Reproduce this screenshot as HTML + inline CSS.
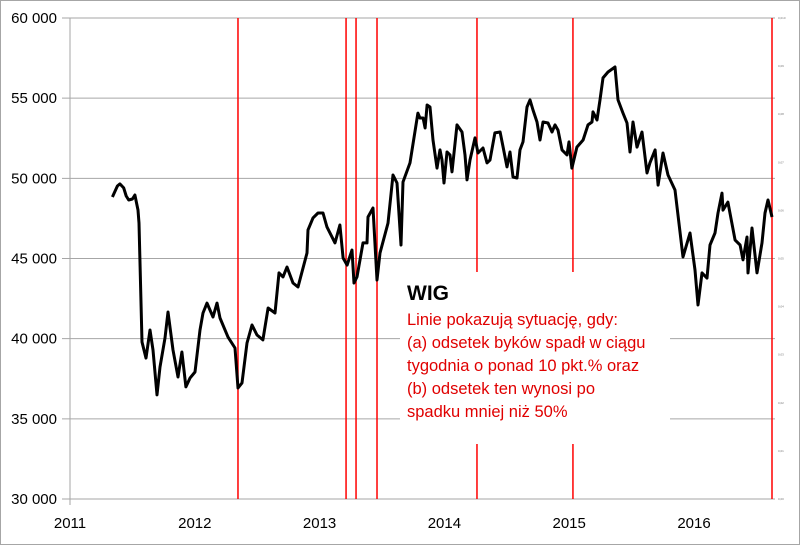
<!DOCTYPE html>
<html><head><meta charset="utf-8"><style>
body{margin:0;background:#fff;}
svg text{font-family:"Liberation Sans","DejaVu Sans",sans-serif;}
</style></head><body>
<svg id="c" width="800" height="545" xmlns="http://www.w3.org/2000/svg">
<rect x="0.5" y="0.5" width="799" height="544" fill="#fff" stroke="#a6a6a6"/>
<g id="grid"></g>
<g id="ylab"></g>
<g id="xlab"></g>
<g id="rlab"></g>
<g id="red"></g>
<path id="line" fill="none" stroke="#000" stroke-width="3" stroke-linejoin="round"/>
<rect x="400" y="272" width="270" height="172" fill="#fff"/>
<text x="407" y="300" font-size="21" font-weight="bold" fill="#000">WIG</text>
<g fill="#e00000" font-size="16.5">
<text x="407" y="325">Linie pokazują sytuację, gdy:</text>
<text x="407" y="348">(a) odsetek byków spadł w ciągu</text>
<text x="407" y="371">tygodnia o ponad 10 pkt.% oraz</text>
<text x="407" y="394">(b) odsetek ten wynosi po</text>
<text x="407" y="417">spadku mniej niż 50%</text>
</g>
</svg>
<script>
const yTicks=[30000,35000,40000,45000,50000,55000,60000];
const yTickLabels=["30 000","35 000","40 000","45 000","50 000","55 000","60 000"];
const xTicks=[2011,2012,2013,2014,2015,2016];
const signalDates=[2012.346,2013.212,2013.292,2013.460,2014.261,2015.030,2016.625];
const dates=[2011.34,2011.38,2011.40,2011.43,2011.45,2011.47,2011.50,2011.52,2011.545,2011.553,2011.577,2011.609,2011.641,2011.665,2011.697,2011.721,2011.761,2011.785,2011.825,2011.865,2011.897,2011.929,2011.962,2012.002,2012.042,2012.066,2012.098,2012.146,2012.178,2012.202,2012.266,2012.322,2012.346,2012.378,2012.418,2012.458,2012.498,2012.546,2012.587,2012.643,2012.675,2012.707,2012.739,2012.787,2012.827,2012.899,2012.907,2012.947,2012.987,2013.027,2013.059,2013.123,2013.163,2013.188,2013.220,2013.260,2013.276,2013.300,2013.348,2013.380,2013.388,2013.428,2013.460,2013.484,2013.548,2013.588,2013.620,2013.652,2013.668,2013.724,2013.788,2013.804,2013.829,2013.845,2013.861,2013.885,2013.909,2013.941,2013.965,2013.981,2013.997,2014.021,2014.045,2014.061,2014.101,2014.141,2014.165,2014.181,2014.205,2014.245,2014.269,2014.309,2014.341,2014.365,2014.405,2014.446,2014.470,2014.502,2014.526,2014.550,2014.582,2014.606,2014.630,2014.662,2014.686,2014.710,2014.742,2014.766,2014.790,2014.830,2014.862,2014.886,2014.910,2014.942,2014.982,2014.998,2015.022,2015.062,2015.111,2015.151,2015.183,2015.191,2015.223,2015.247,2015.271,2015.311,2015.367,2015.391,2015.431,2015.463,2015.487,2015.511,2015.543,2015.583,2015.623,2015.647,2015.688,2015.712,2015.752,2015.792,2015.848,2015.912,2015.968,2016.008,2016.032,2016.064,2016.104,2016.128,2016.168,2016.192,2016.224,2016.232,2016.272,2016.329,2016.369,2016.393,2016.425,2016.433,2016.465,2016.505,2016.545,2016.569,2016.593,2016.625];
const values=[48835,49520,49650,49400,48900,48650,48710,48960,48020,47210,39790,38790,40540,39290,36490,38230,40040,41660,39290,37610,39170,36990,37550,37920,40540,41600,42220,41350,42220,41290,40100,39420,36920,37240,39730,40850,40230,39920,41910,41600,44100,43850,44470,43470,43220,45340,46780,47530,47840,47840,46960,45970,47090,45030,44590,45530,43470,43850,45970,45970,47590,48150,43660,45340,47210,50210,49710,45840,49770,50960,54070,53760,53760,53140,54570,54450,52390,50640,51770,51140,49710,51640,51460,50400,53330,52890,51460,49900,51140,52520,51580,51890,50960,51140,52830,52890,51950,50710,51640,50080,50020,51770,52270,54450,54890,54260,53510,52390,53510,53450,52890,53330,53010,51770,51460,52270,50640,51950,52390,53330,53510,54140,53640,54890,56260,56630,56940,54890,54070,53450,51640,53510,51950,52890,50330,50960,51770,49580,51580,50210,49270,45090,46590,44280,42100,44100,43780,45840,46590,47840,49080,48020,48520,46150,45840,44910,46340,44100,46900,44100,45970,47840,48650,47590];
const NS="http://www.w3.org/2000/svg";
const X=d=>70+(d-2011)*124.8;
const Y=v=>499-(v-30000)/5000*80.17;
function mk(t,a,p){const e=document.createElementNS(NS,t);for(const k in a)e.setAttribute(k,a[k]);p.appendChild(e);return e;}
const grid=document.getElementById('grid'),ylab=document.getElementById('ylab'),xlab=document.getElementById('xlab'),rlab=document.getElementById('rlab'),red=document.getElementById('red');
yTicks.forEach((v,i)=>{
 const g=mk('line',{x1:62,x2:775,y1:Y(v),y2:Y(v),stroke:'#a6a6a6','stroke-width':1},grid);
 
 
 const t=mk('text',{x:57,y:Y(v)+5,'text-anchor':'end','font-size':15,fill:'#000'},ylab);
 t.textContent=yTickLabels[i];
 
 
});
mk('line',{x1:70,x2:70,y1:18,y2:505,stroke:'#a6a6a6'},grid);
xTicks.forEach(d=>{
 const t=mk('text',{x:X(d),y:528,'text-anchor':'middle','font-size':15,fill:'#000'},xlab);
 t.textContent=d;
 
 
});
for(let i=0;i<=10;i++){
 const t=mk('text',{x:778,y:18+i*48.1+1,'font-size':3,fill:'#777'},rlab);
 t.textContent='0,0'+(10-i);
 
 
}
signalDates.forEach(d=>{
 const l=mk('line',{x1:X(d),x2:X(d),y1:18,y2:499,stroke:'#ff0000','stroke-width':1.5},red);
 
 
});
document.getElementById('line').setAttribute('d',dates.map((d,i)=>(i?'L':'M')+X(d).toFixed(1)+','+Y(values[i]).toFixed(1)).join(''));
</script>
</body></html>
